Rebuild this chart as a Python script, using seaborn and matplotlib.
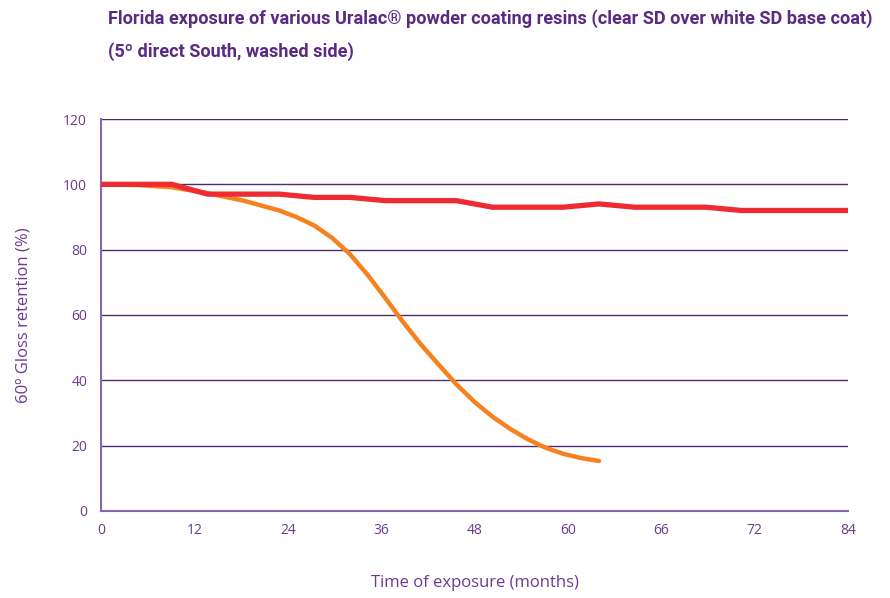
import matplotlib
matplotlib.use("Agg")
import matplotlib.pyplot as plt
import seaborn as sns
import pandas as pd
from matplotlib.ticker import MultipleLocator

# ---- data (x in axis-position months) ----
red_x = [0, 4.6, 9.1, 13.7, 18.3, 22.9, 27.4, 32, 36.6, 41.1, 45.7, 50.3,
         54.9, 59.4, 64, 68.6, 73.1, 77.7, 82.3, 86.9, 91.4, 96]
red_y = [100, 100, 100, 97, 97, 97, 96, 96, 95, 95, 95, 93,
         93, 93, 94, 93, 93, 93, 92, 92, 92, 92]

orange_x = [0, 4.6, 9.1, 13.7, 18.3, 22.9, 25.1, 27.4, 29.7, 32, 34.3, 36.6,
            38.9, 41.1, 43.4, 45.7, 48, 50.3, 52.6, 54.9, 57.1, 59.4, 61.7, 64]
orange_y = [100, 99.8, 99.1, 97.3, 95.0, 92.0, 90.0, 87.4, 83.6, 78.6, 72.2, 65.0,
            57.6, 51.0, 44.8, 38.7, 33.4, 28.9, 25.1, 21.9, 19.4, 17.5, 16.2, 15.3]

xtick_pos = [0, 12, 24, 36, 48, 60, 72, 84, 96]
xtick_labels = ["0", "12", "24", "36", "48", "60", "66", "72", "84"]
yticks = [0, 20, 40, 60, 80, 100, 120]

title = ("Florida exposure of various Uralac\u00ae powder coating resins (clear SD over white SD base coat)\n"
         "(5\u00ba direct South, washed side)")
xlabel = "Time of exposure (months)"
ylabel = "60\u00ba Gloss retention (%)"

# ---- style ----
sns.set_style("white")
plt.rcParams["font.family"] = ["Open Sans", "DejaVu Sans"]

PURPLE_TXT = "#6b3a8e"
PURPLE_TITLE = "#5a2a82"
PURPLE_GRID = "#4e2c74"
PURPLE_AXIS = "#8a66ad"
RED = "#ee2a33"
ORANGE = "#f5821f"

df_red = pd.DataFrame({"x": red_x, "y": red_y})
df_or = pd.DataFrame({"x": orange_x, "y": orange_y})

fig = plt.figure(figsize=(8.9, 5.98), dpi=100)
ax = fig.add_axes([0.1135, 0.1455, 0.8393, 0.6555])

for yv in yticks[1:]:
    ax.axhline(yv, color=PURPLE_GRID, lw=1.0, zorder=1)

sns.lineplot(data=df_or, x="x", y="y", ax=ax, color=ORANGE, lw=3.2,
             sort=False, zorder=3, solid_capstyle="round", solid_joinstyle="round")
sns.lineplot(data=df_red, x="x", y="y", ax=ax, color=RED, lw=3.8,
             sort=False, zorder=4, solid_capstyle="round", solid_joinstyle="round")

ax.set_xlim(0, 96)
ax.set_ylim(0, 120)

for s in ["top", "right"]:
    ax.spines[s].set_visible(False)
for s in ["left", "bottom"]:
    ax.spines[s].set_color(PURPLE_AXIS)
    ax.spines[s].set_linewidth(1.5)
    ax.spines[s].set_zorder(2)

ax.set_xticks(xtick_pos)
ax.set_xticklabels(xtick_labels)
ax.xaxis.set_minor_locator(MultipleLocator(2))
ax.tick_params(axis="x", which="both", direction="in", length=7.5, width=1.2,
               color=PURPLE_AXIS, labelcolor=PURPLE_TXT, labelsize=10, pad=9)
ax.set_yticks(yticks)
ax.tick_params(axis="y", which="both", length=0, labelcolor=PURPLE_TXT,
               labelsize=10, pad=10)

ax.set_xlabel(xlabel, color=PURPLE_TXT, fontsize=12, labelpad=26)
ax.set_ylabel(ylabel, color=PURPLE_TXT, fontsize=12, labelpad=23)
ax.grid(False)

fig.text(108 / 890, 1 - 9 / 598, title, ha="left", va="top",
         color=PURPLE_TITLE, fontsize=13.1, fontweight="bold",
         family=["Roboto", "DejaVu Sans"], linespacing=1.95)

fig.savefig("out.png", dpi=100)
